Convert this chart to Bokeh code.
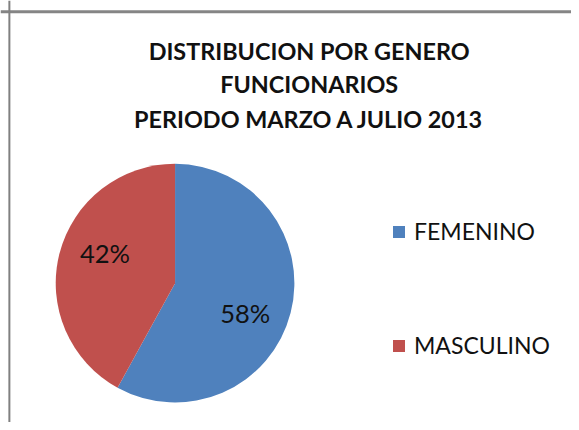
import numpy as np
from bokeh.plotting import figure, ColumnDataSource
from bokeh.models import Span, Legend, LegendItem
from bokeh.core.properties import value
from bokeh.embed import file_html
from bokeh.resources import INLINE

# ---- data ----
categories = ["FEMENINO", "MASCULINO"]
shares = [0.58, 0.42]
colors = ["#4F81BD", "#C0504D"]
title_lines = ["DISTRIBUCION POR GENERO", "FUNCIONARIOS", "PERIODO MARZO A JULIO 2013"]

# canvas: data units follow the original chart's pixel grid (579 x 430)
W, H = 571, 422
p = figure(width=W, height=H, x_range=(0, 579), y_range=(0, 430),
           output_backend="svg", toolbar_location=None, min_border=0)
p.axis.visible = False
p.grid.visible = False
p.outline_line_color = None
p.background_fill_color = "white"

# chart-area frame (top and left edges visible in the crop)
p.add_layout(Span(location=418.5, dimension="width", line_color="#858585", line_width=3))
p.add_layout(Span(location=9, dimension="height", line_color="#808080", line_width=2))

# ---- pie ----
cx, cy, r = 177, 142, 121
vals = np.array(shares)
cum = np.concatenate([[0], np.cumsum(vals)])
start = np.pi / 2 - 2 * np.pi * cum[:-1]
end = np.pi / 2 - 2 * np.pi * cum[1:]
mid = (start + end) / 2
lab_ang = mid - np.radians(9)
lab_r = 0.64 * r
src = ColumnDataSource(dict(
    cat=categories, start=start, end=end, color=colors,
    lx=cx + lab_r * np.cos(lab_ang), ly=cy + lab_r * np.sin(lab_ang),
    lab=[f"{round(v * 100)}%" for v in shares],
))
wr = p.wedge(x=cx, y=cy, radius=r,
             start_angle="start", end_angle="end", direction="clock",
             fill_color="color", line_color=None, source=src)
p.text(x="lx", y="ly", text="lab", source=src, text_align="center",
       text_baseline="middle", text_font=value("Lato"), text_font_size="25.5px",
       text_color="#111111")

# ---- title ----
tsrc = ColumnDataSource(dict(x=[313] * 3, y=[379, 345, 309], t=title_lines))
p.text(x="x", y="y", text="t", source=tsrc, text_align="center", text_baseline="middle",
       text_font=value("Lato"), text_font_style="bold", text_font_size="23.4px",
       text_color="#111111")

# ---- legend ----
items = [LegendItem(label=c, renderers=[wr], index=i) for i, c in enumerate(categories)]
legend = Legend(items=items, location=(391, 63), spacing=86,
                glyph_width=15, glyph_height=15, label_standoff=8,
                label_text_font="Lato", label_text_font_size="23px",
                label_text_color="#111111", border_line_color=None,
                background_fill_alpha=0, padding=0, margin=0)
p.add_layout(legend)

open("out.html", "w").write(file_html(p, INLINE))
